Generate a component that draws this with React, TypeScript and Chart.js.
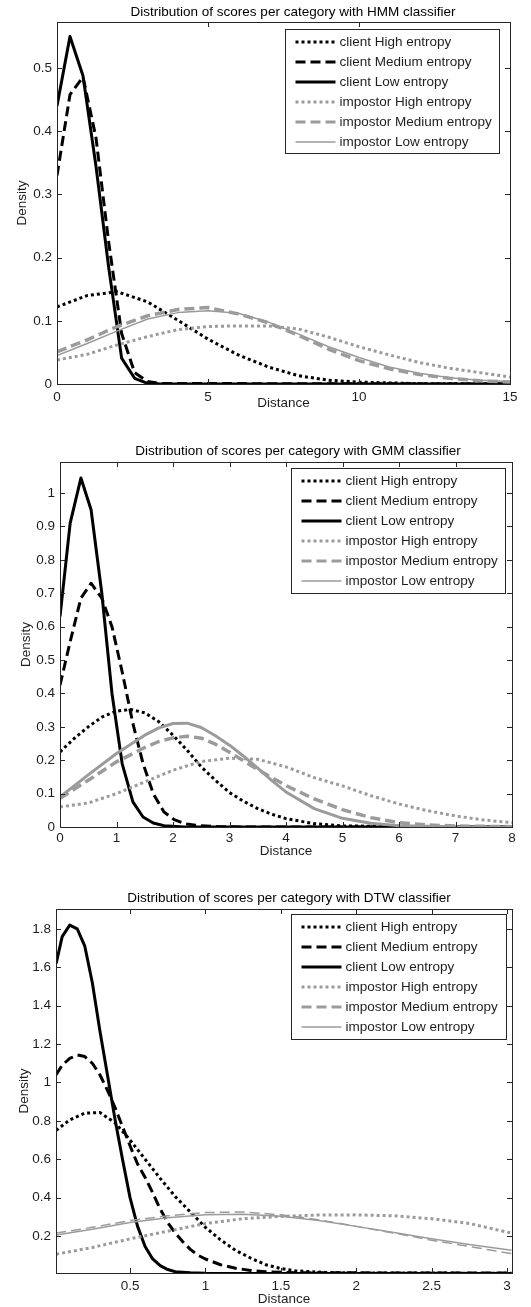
import React, { useEffect, useRef } from "react";
import { Chart, registerables } from "chart.js";

Chart.register(...registerables);

// ---------- labels ----------
const SERIES_LABELS = [
  "client High entropy",
  "client Medium entropy",
  "client Low entropy",
  "impostor High entropy",
  "impostor Medium entropy",
  "impostor Low entropy",
];

// ---------- HMM classifier ----------
const hmmXTicks = [0, 5, 10, 15];
const hmmYTicks = [0, 0.1, 0.2, 0.3, 0.4, 0.5];
const hmmClientHighX = [0, 1, 2, 3, 4, 5, 6, 7, 8, 9, 10, 12, 15];
const hmmClientHighY = [0.122, 0.14, 0.146, 0.13, 0.101, 0.071, 0.046, 0.027, 0.013, 0.006, 0.003, 0.0005, 0];
const hmmClientMedX = [0, 0.43, 0.86, 1.29, 1.71, 2.14, 2.57, 3.0, 3.43, 15];
const hmmClientMedY = [0.33, 0.458, 0.486, 0.39, 0.225, 0.08, 0.018, 0.004, 0.0008, 0];
const hmmClientLowX = [0, 0.43, 0.86, 1.29, 1.71, 2.14, 2.57, 3.0, 3.43, 15];
const hmmClientLowY = [0.44, 0.55, 0.488, 0.345, 0.185, 0.041, 0.009, 0.001, 0, 0];
const hmmImpHighX = [0, 1, 2, 3, 4, 5, 6, 7, 8, 9, 10, 11, 12, 13, 14, 15];
const hmmImpHighY = [0.038, 0.047, 0.062, 0.075, 0.086, 0.091, 0.092, 0.092, 0.087, 0.074, 0.059, 0.046, 0.034, 0.025, 0.018, 0.011];
const hmmImpMedX = [0, 1, 2, 3, 4, 5, 6, 7, 8, 9, 10, 11, 12, 13, 14, 15];
const hmmImpMedY = [0.051, 0.07, 0.091, 0.108, 0.118, 0.121, 0.111, 0.097, 0.077, 0.055, 0.037, 0.024, 0.015, 0.009, 0.005, 0.003];
const hmmImpLowX = [0, 1, 2, 3, 4, 5, 6, 7, 8, 9, 10, 11, 12, 13, 14, 15];
const hmmImpLowY = [0.045, 0.064, 0.084, 0.103, 0.113, 0.116, 0.112, 0.098, 0.079, 0.059, 0.042, 0.027, 0.017, 0.01, 0.006, 0.004];

// ---------- GMM classifier ----------
const gmmXTicks = [0, 1, 2, 3, 4, 5, 6, 7, 8];
const gmmYTicks = [0, 0.1, 0.2, 0.3, 0.4, 0.5, 0.6, 0.7, 0.8, 0.9, 1];
const gmmClientHighX = [0, 0.25, 0.5, 0.75, 1, 1.25, 1.5, 1.75, 2, 2.25, 2.5, 2.75, 3, 3.25, 3.5, 3.75, 4, 4.5, 5, 8];
const gmmClientHighY = [0.225, 0.265, 0.3, 0.33, 0.347, 0.352, 0.342, 0.315, 0.275, 0.23, 0.18, 0.14, 0.103, 0.077, 0.055, 0.038, 0.025, 0.01, 0.003, 0];
const gmmClientMedX = [0, 0.18, 0.37, 0.55, 0.74, 0.92, 1.1, 1.29, 1.47, 1.65, 1.84, 2.02, 2.21, 2.4, 2.8, 3.3, 8];
const gmmClientMedY = [0.425, 0.555, 0.685, 0.73, 0.685, 0.6, 0.465, 0.31, 0.19, 0.1, 0.045, 0.022, 0.01, 0.005, 0.001, 0, 0];
const gmmClientLowX = [0, 0.18, 0.37, 0.55, 0.74, 0.92, 1.1, 1.29, 1.47, 1.65, 1.84, 2.2, 8];
const gmmClientLowY = [0.63, 0.91, 1.045, 0.95, 0.7, 0.4, 0.19, 0.075, 0.03, 0.012, 0.004, 0, 0];
const gmmImpHighX = [0, 0.5, 1, 1.5, 2, 2.5, 3, 3.5, 4, 4.5, 5, 5.5, 6, 6.5, 7, 7.5, 8];
const gmmImpHighY = [0.06, 0.072, 0.1, 0.135, 0.17, 0.196, 0.206, 0.203, 0.18, 0.148, 0.123, 0.094, 0.069, 0.049, 0.033, 0.021, 0.013];
const gmmImpMedX = [0, 0.5, 1, 1.5, 1.75, 2, 2.25, 2.5, 2.75, 3, 3.25, 3.5, 4, 4.5, 5, 5.5, 6, 6.5, 7, 8];
const gmmImpMedY = [0.086, 0.14, 0.195, 0.238, 0.256, 0.267, 0.272, 0.266, 0.248, 0.224, 0.198, 0.172, 0.124, 0.084, 0.052, 0.028, 0.013, 0.006, 0.003, 0.001];
const gmmImpLowX = [0, 0.5, 1, 1.5, 1.75, 2, 2.25, 2.5, 2.75, 3, 3.25, 3.5, 3.75, 4, 4.5, 5, 5.5, 6, 6.5, 7, 8];
const gmmImpLowY = [0.09, 0.156, 0.22, 0.275, 0.297, 0.31, 0.311, 0.298, 0.273, 0.245, 0.212, 0.176, 0.139, 0.105, 0.055, 0.026, 0.011, 0.004, 0.002, 0.001, 0];

// ---------- DTW classifier ----------
const dtwXTicks = [0.5, 1, 1.5, 2, 2.5, 3];
const dtwYTicks = [0.2, 0.4, 0.6, 0.8, 1, 1.2, 1.4, 1.6, 1.8];
const dtwClientHighX = [0.01, 0.1, 0.2, 0.3, 0.4, 0.5, 0.6, 0.7, 0.8, 0.9, 1.0, 1.1, 1.2, 1.3, 1.4, 1.5, 1.6, 1.8, 2.0, 3.03];
const dtwClientHighY = [0.75, 0.805, 0.84, 0.843, 0.79, 0.7, 0.6, 0.5, 0.405, 0.325, 0.245, 0.18, 0.125, 0.085, 0.05, 0.03, 0.018, 0.01, 0.007, 0.006];
const dtwClientMedX = [0.01, 0.05, 0.1, 0.15, 0.2, 0.25, 0.3, 0.35, 0.4, 0.45, 0.5, 0.55, 0.6, 0.65, 0.7, 0.75, 0.8, 0.85, 0.9, 0.95, 1.0, 1.1, 1.2, 1.3, 1.4, 1.6, 3.03];
const dtwClientMedY = [1.04, 1.09, 1.125, 1.143, 1.135, 1.1, 1.04, 0.96, 0.87, 0.77, 0.67, 0.575, 0.505, 0.425, 0.34, 0.27, 0.215, 0.17, 0.13, 0.1, 0.08, 0.05, 0.032, 0.02, 0.013, 0.008, 0.007];
const dtwClientLowX = [0.01, 0.05, 0.1, 0.15, 0.2, 0.25, 0.3, 0.35, 0.4, 0.45, 0.5, 0.55, 0.6, 0.65, 0.7, 0.75, 0.8, 0.9, 1.0, 3.03];
const dtwClientLowY = [1.62, 1.76, 1.82, 1.8, 1.71, 1.52, 1.27, 1.04, 0.81, 0.6, 0.4, 0.25, 0.145, 0.08, 0.045, 0.025, 0.014, 0.008, 0.006, 0.005];
const dtwImpHighX = [0.01, 0.25, 0.5, 0.75, 1.0, 1.25, 1.5, 1.75, 2.0, 2.25, 2.5, 2.75, 3.03];
const dtwImpHighY = [0.105, 0.14, 0.185, 0.225, 0.265, 0.29, 0.302, 0.309, 0.31, 0.305, 0.29, 0.265, 0.215];
const dtwImpMedX = [0.01, 0.25, 0.5, 0.75, 1.0, 1.25, 1.5, 1.75, 2.0, 2.25, 2.5, 2.75, 3.03];
const dtwImpMedY = [0.215, 0.245, 0.28, 0.305, 0.322, 0.325, 0.31, 0.285, 0.25, 0.215, 0.178, 0.145, 0.108];
const dtwImpLowX = [0.01, 0.25, 0.5, 0.75, 1.0, 1.25, 1.5, 1.75, 2.0, 2.25, 2.5, 2.75, 3.03];
const dtwImpLowY = [0.205, 0.235, 0.27, 0.295, 0.31, 0.313, 0.303, 0.28, 0.25, 0.218, 0.185, 0.155, 0.125];

// ---------- styles ----------
const FONT_FAMILY = '"Liberation Sans", Arial, Helvetica, sans-serif';
const FONT_SIZE = 13.5;
const LINE_H = FONT_SIZE * 1.2;
const TEXT_COLOR = "#1e1e1e";
const AXIS_COLOR = "#262626";
const BLACK = "#000000";
const GRAY = "#9b9b9b";
const DOT = [3, 3];
const DASH = [10, 5];
const SOLID: number[] = [];
const SERIES_COLORS = [BLACK, BLACK, BLACK, GRAY, GRAY, GRAY];
const SERIES_DASH = [DOT, DASH, SOLID, DOT, DASH, SOLID];
const LEGEND_WIDTHS = [3, 3, 3, 3, 3, 1.5];
const TICK_LEN = 5;
const CANVAS_W = 531;
const PAGE_H = 1307;

type Panel = {
  title: string;
  top: number;
  height: number;
  area: { left: number; top: number; right: number; bottom: number };
  titleX: number;
  titleY: number;
  xTickY: number;
  xTitleY: number;
  yTitleX: number;
  xMin: number;
  xMax: number;
  yMin: number;
  yMax: number;
  xTicks: number[];
  yTicks: number[];
  series: [number[], number[]][];
  widths: number[];
  legend: { right: number; top: number; width: number; height: number };
};

const PANELS: Panel[] = [
  {
    title: "Distribution of scores per category with HMM classifier",
    top: 0,
    height: 420,
    area: { left: 57, top: 22, right: 510, bottom: 384 },
    titleX: 293,
    titleY: 12,
    xTickY: 397,
    xTitleY: 403,
    yTitleX: 22,
    xMin: 0,
    xMax: 15,
    yMin: 0,
    yMax: 0.573,
    xTicks: hmmXTicks,
    yTicks: hmmYTicks,
    series: [
      [hmmClientHighX, hmmClientHighY],
      [hmmClientMedX, hmmClientMedY],
      [hmmClientLowX, hmmClientLowY],
      [hmmImpHighX, hmmImpHighY],
      [hmmImpMedX, hmmImpMedY],
      [hmmImpLowX, hmmImpLowY],
    ],
    widths: [3, 3, 3, 3, 3.5, 1.5],
    legend: { right: 11, top: 7, width: 214, height: 124 },
  },
  {
    title: "Distribution of scores per category with GMM classifier",
    top: 420,
    height: 440,
    area: { left: 60, top: 42, right: 512, bottom: 407 },
    titleX: 298,
    titleY: 31,
    xTickY: 418,
    xTitleY: 431.5,
    yTitleX: 26,
    xMin: 0,
    xMax: 8,
    yMin: 0,
    yMax: 1.093,
    xTicks: gmmXTicks,
    yTicks: gmmYTicks,
    series: [
      [gmmClientHighX, gmmClientHighY],
      [gmmClientMedX, gmmClientMedY],
      [gmmClientLowX, gmmClientLowY],
      [gmmImpHighX, gmmImpHighY],
      [gmmImpMedX, gmmImpMedY],
      [gmmImpLowX, gmmImpLowY],
    ],
    widths: [3, 3, 3, 3, 3.5, 3],
    legend: { right: 7, top: 6, width: 214, height: 125 },
  },
  {
    title: "Distribution of scores per category with DTW classifier",
    top: 860,
    height: 447,
    area: { left: 56, top: 49, right: 512, bottom: 413 },
    titleX: 289,
    titleY: 38,
    xTickY: 426.5,
    xTitleY: 439,
    yTitleX: 24,
    xMin: 0.009,
    xMax: 3.033,
    yMin: 0.007,
    yMax: 1.904,
    xTicks: dtwXTicks,
    yTicks: dtwYTicks,
    series: [
      [dtwClientHighX, dtwClientHighY],
      [dtwClientMedX, dtwClientMedY],
      [dtwClientLowX, dtwClientLowY],
      [dtwImpHighX, dtwImpHighY],
      [dtwImpMedX, dtwImpMedY],
      [dtwImpLowX, dtwImpLowY],
    ],
    widths: [3, 3, 3, 3, 1.5, 1.5],
    legend: { right: 6, top: 5, width: 215, height: 125 },
  },
];

const fmt = (v: number) => String(Number(Number(v).toFixed(4)));
const FONT = { family: FONT_FAMILY, size: FONT_SIZE };

function makeFramePlugin(p: Panel) {
  return {
    id: "matlabFrame",
    afterDatasetsDraw(chart: any) {
      const { ctx, chartArea: a, scales } = chart;
      const xs = scales.x;
      const ys = scales.y;
      ctx.save();
      ctx.setLineDash([]);
      // tick marks inside on all four sides
      ctx.strokeStyle = AXIS_COLOR;
      ctx.lineWidth = 1;
      ctx.beginPath();
      for (const t of xs.ticks) {
        const px = Math.round(xs.getPixelForValue(t.value)) + 0.5;
        ctx.moveTo(px, a.bottom);
        ctx.lineTo(px, a.bottom - TICK_LEN);
        ctx.moveTo(px, a.top);
        ctx.lineTo(px, a.top + TICK_LEN);
      }
      for (const t of ys.ticks) {
        const py = Math.round(ys.getPixelForValue(t.value)) + 0.5;
        ctx.moveTo(a.left, py);
        ctx.lineTo(a.left + TICK_LEN, py);
        ctx.moveTo(a.right, py);
        ctx.lineTo(a.right - TICK_LEN, py);
      }
      ctx.stroke();
      // axes box
      ctx.strokeRect(
        Math.round(a.left) + 0.5,
        Math.round(a.top) + 0.5,
        Math.round(a.right - a.left),
        Math.round(a.bottom - a.top)
      );
      // legend box
      const lg = p.legend;
      const bx = Math.round(a.right - lg.right - lg.width) + 0.5;
      const by = Math.round(a.top + lg.top) + 0.5;
      ctx.fillStyle = "#ffffff";
      ctx.fillRect(bx, by, lg.width, lg.height);
      ctx.strokeStyle = AXIS_COLOR;
      ctx.lineWidth = 1;
      ctx.strokeRect(bx, by, lg.width, lg.height);
      ctx.font = `${FONT_SIZE}px ${FONT_FAMILY}`;
      ctx.textBaseline = "middle";
      ctx.textAlign = "left";
      chart.data.datasets.forEach((ds: any, i: number) => {
        const cy = Math.round(by + 12.5 + i * 20);
        ctx.save();
        ctx.strokeStyle = SERIES_COLORS[i];
        ctx.lineWidth = LEGEND_WIDTHS[i];
        ctx.lineCap = "butt";
        ctx.setLineDash(SERIES_DASH[i]);
        ctx.beginPath();
        ctx.moveTo(bx + 10, cy);
        ctx.lineTo(bx + 50, cy);
        ctx.stroke();
        ctx.restore();
        ctx.fillStyle = TEXT_COLOR;
        ctx.fillText(ds.label, bx + 54, cy + 0.5);
      });
      // chart title
      ctx.fillStyle = "#000000";
      ctx.textAlign = "center";
      ctx.textBaseline = "middle";
      ctx.fillText(p.title, p.titleX, p.titleY);
      ctx.restore();
    },
  };
}

function PanelChart({ panel }: { panel: Panel }) {
  const ref = useRef<HTMLCanvasElement | null>(null);
  useEffect(() => {
    const canvas = ref.current;
    if (!canvas) return;
    const p = panel;
    const datasets = p.series.map(([xv, yv], i) => ({
      label: SERIES_LABELS[i],
      data: xv.map((x, k) => ({ x, y: yv[k] })),
      borderColor: SERIES_COLORS[i],
      backgroundColor: SERIES_COLORS[i],
      borderWidth: p.widths[i],
      borderDash: SERIES_DASH[i],
      borderCapStyle: "butt" as const,
      borderJoinStyle: "round" as const,
      pointRadius: 0,
      pointHoverRadius: 0,
      tension: 0,
      fill: false,
      clip: 0,
      order: p.series.length - i,
    }));
    const chart = new Chart(canvas, {
      type: "line",
      data: { datasets },
      options: {
        responsive: false,
        animation: false,
        devicePixelRatio: 1,
        events: [],
        layout: {
          padding: { left: 0, top: p.area.top, right: CANVAS_W - p.area.right, bottom: 0 },
        },
        plugins: {
          legend: { display: false },
          title: { display: false },
          tooltip: { enabled: false },
        },
        scales: {
          x: {
            type: "linear",
            min: p.xMin,
            max: p.xMax,
            bounds: "data",
            afterBuildTicks: (s: any) => {
              s.ticks = p.xTicks.map((v) => ({ value: v }));
            },
            afterFit: (s: any) => {
              s.height = p.height - p.area.bottom;
            },
            grid: { display: false, drawTicks: false },
            border: { display: false },
            ticks: {
              autoSkip: false,
              maxRotation: 0,
              minRotation: 0,
              padding: p.xTickY - p.area.bottom - LINE_H / 2,
              color: TEXT_COLOR,
              font: FONT,
              callback: (v: any) => fmt(v),
            },
            title: {
              display: true,
              text: "Distance",
              color: TEXT_COLOR,
              font: FONT,
              padding: { top: 0, bottom: p.height - p.xTitleY - LINE_H / 2 },
            },
          },
          y: {
            type: "linear",
            min: p.yMin,
            max: p.yMax,
            bounds: "data",
            afterBuildTicks: (s: any) => {
              s.ticks = p.yTicks.map((v) => ({ value: v }));
            },
            afterFit: (s: any) => {
              s.width = p.area.left;
            },
            grid: { display: false, drawTicks: false },
            border: { display: false },
            ticks: {
              autoSkip: false,
              padding: 5,
              color: TEXT_COLOR,
              font: FONT,
              callback: (v: any) => fmt(v),
            },
            title: {
              display: true,
              text: "Density",
              color: TEXT_COLOR,
              font: FONT,
              padding: { top: p.yTitleX - LINE_H / 2, bottom: 0 },
            },
          },
        },
      },
      plugins: [makeFramePlugin(p)],
    } as any);
    return () => chart.destroy();
  }, [panel]);
  return (
    <canvas
      ref={ref}
      width={CANVAS_W}
      height={panel.height}
      style={{
        position: "absolute",
        left: 0,
        top: panel.top,
        width: CANVAS_W,
        height: panel.height,
        display: "block",
      }}
    />
  );
}

export default function App() {
  return (
    <div
      style={{
        position: "absolute",
        left: 0,
        top: 0,
        width: CANVAS_W,
        height: PAGE_H,
        background: "#ffffff",
        overflow: "hidden",
      }}
    >
      {PANELS.map((p) => (
        <PanelChart key={p.title} panel={p} />
      ))}
    </div>
  );
}
